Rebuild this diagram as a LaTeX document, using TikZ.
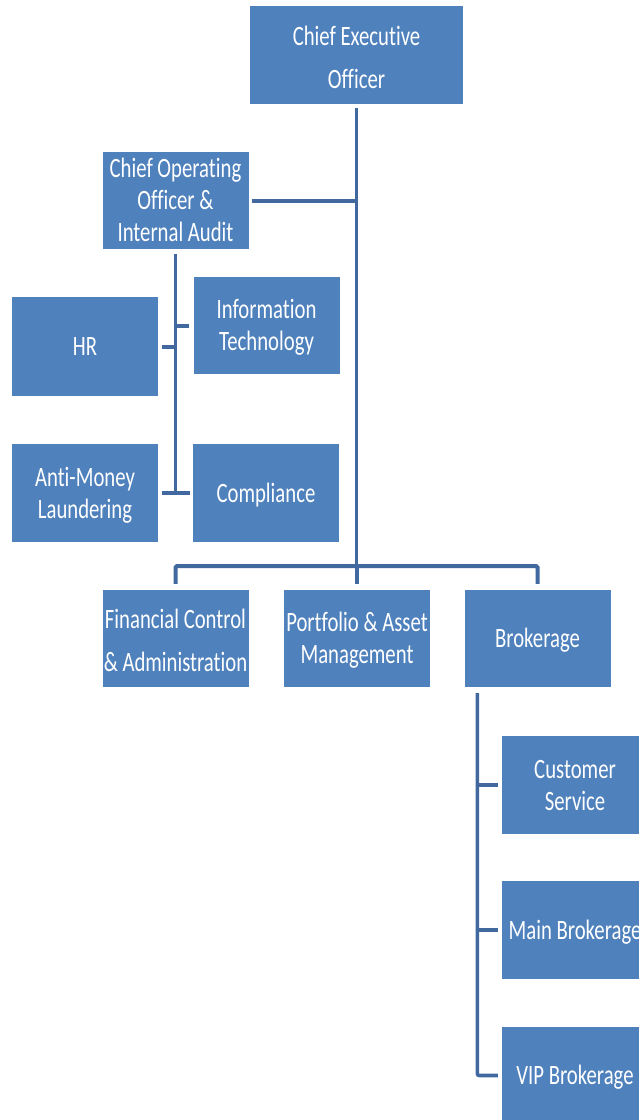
\documentclass[tikz,border=0pt]{standalone}
\usepackage{fontspec}
\setmainfont[Ligatures=NoCommon]{Carlito}
\usepackage{graphicx}
\usetikzlibrary{calc}
\definecolor{boxfill}{HTML}{4F81BD}
\definecolor{linecol}{HTML}{41699F}
\newcommand\boxtext[2]{{\fontsize{28}{#1}\selectfont\raisebox{-3pt}[\height][\depth]{\scalebox{0.74}[1]{\begin{tabular}{@{}c@{}}#2\end{tabular}}}}}
\tikzset{
  orgbox/.style={rectangle, fill=boxfill, text=white, inner sep=0pt,
    minimum width=146pt, minimum height=97pt},
  conn/.style={draw=linecol, line width=4pt}
}
\begin{document}
\begin{tikzpicture}[x=1pt,y=-1pt]
\clip (0,0) rectangle (639,1120);
\fill[white] (0,0) rectangle (639,1120);
% boxes
\node[orgbox, minimum width=213pt, minimum height=98pt] (ceo) at (356.5,55) {\boxtext{43}{Chief Executive\\Officer}};
\node[orgbox] (coo) at (175.5,200.5) {\boxtext{32}{Chief Operating\\Officer \&\\Internal Audit}};
\node[orgbox, minimum height=99pt] (hr) at (85,346.5) {\boxtext{32}{HR}};
\node[orgbox] (it) at (266.5,325.5) {\boxtext{32}{Information\\Technology}};
\node[orgbox, minimum height=98pt] (aml) at (85,493) {\boxtext{32}{Anti-Money\\Laundering}};
\node[orgbox, minimum height=98pt] (comp) at (266,493) {\boxtext{32}{Compliance}};
\node[orgbox] (fca) at (175.5,638.5) {\boxtext{43}{Financial Control\\\& Administration}};
\node[orgbox] (pam) at (357,638.5) {\boxtext{32}{Portfolio \& Asset\\Management}};
\node[orgbox] (brk) at (537.5,638.5) {\boxtext{32}{Brokerage}};
\node[orgbox, minimum height=98pt] (cs) at (575,785) {\boxtext{32}{Customer\\Service}};
\node[orgbox, minimum height=98pt] (mb) at (575,930) {\boxtext{32}{Main Brokerage}};
\node[orgbox] (vip) at (575,1075.5) {\boxtext{32}{VIP Brokerage}};
% connectors
\coordinate (bar) at (357,566);
\draw[conn, line width=3.8pt, shorten <=4pt] (ceo.south) -- (ceo.south |- bar);
\draw[conn, shorten <=3pt] (coo.east) -- (coo.east -| ceo.south);
\draw[conn, line width=3.6pt, shorten <=5pt] (coo.south) -- (coo.south |- aml.east);
\draw[conn, shorten <=4pt] (hr.east) -- (hr.east -| coo.south);
\draw[conn, shorten <=4pt] (it.west) -- (it.west -| coo.south);
\draw[conn, shorten <=4pt, shorten >=3pt] (aml.east) -- (comp.west);
\draw[conn, rounded corners=1.5pt] ($(fca.north)+(0,-6)$) -- (fca.north |- bar) -- (brk.north |- bar) -- ($(brk.north)+(0,-6)$);
\draw[conn, line width=3.6pt, shorten >=6pt] (pam.north |- bar) -- (pam.north);
\coordinate (bl) at ($(brk.south west)+(13,0)$);
\draw[conn, line width=3.6pt, rounded corners=2pt] ($(bl)+(0,6)$) -- (bl |- vip.west) -- ($(vip.west)+(-4,0)$);
\draw[conn, shorten <=4pt] (cs.west) -- (cs.west -| bl);
\draw[conn, shorten <=4pt] (mb.west) -- (mb.west -| bl);
\end{tikzpicture}
\end{document}
